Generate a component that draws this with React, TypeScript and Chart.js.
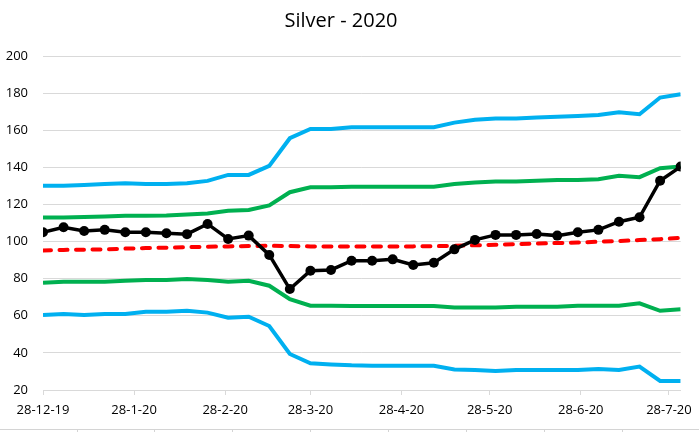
import React, { useEffect, useRef } from "react";
import { Chart, registerables } from "chart.js";

Chart.register(...registerables);

const weekDates = [
  "2019-12-28", "2020-01-04", "2020-01-11", "2020-01-18", "2020-01-25",
  "2020-02-01", "2020-02-08", "2020-02-15", "2020-02-22", "2020-02-29",
  "2020-03-07", "2020-03-14", "2020-03-21", "2020-03-28", "2020-04-04",
  "2020-04-11", "2020-04-18", "2020-04-25", "2020-05-02", "2020-05-09",
  "2020-05-16", "2020-05-23", "2020-05-30", "2020-06-06", "2020-06-13",
  "2020-06-20", "2020-06-27", "2020-07-04", "2020-07-11", "2020-07-18",
  "2020-07-25", "2020-08-01",
];

const tickDates = [
  "2019-12-28", "2020-01-28", "2020-02-28", "2020-03-28",
  "2020-04-28", "2020-05-28", "2020-06-28", "2020-07-28",
];
const tickLabels = [
  "28-12-19", "28-1-20", "28-2-20", "28-3-20",
  "28-4-20", "28-5-20", "28-6-20", "28-7-20",
];

const silver = [
  105.0, 107.7, 105.7, 106.3, 105.0, 105.0, 104.5, 104.0, 109.5, 101.4,
  103.2, 92.8, 74.4, 84.3, 84.7, 89.7, 89.7, 90.4, 87.4, 88.6,
  95.8, 100.9, 103.6, 103.6, 104.1, 103.2, 105.0, 106.3, 110.7, 113.1,
  132.8, 140.4,
];
const upper2 = [
  130.1, 130.1, 130.5, 131.0, 131.4, 131.0, 131.0, 131.4, 132.7, 135.9,
  135.9, 140.8, 155.7, 160.7, 160.7, 161.6, 161.6, 161.6, 161.6, 161.6,
  164.1, 165.6, 166.3, 166.3, 166.8, 167.3, 167.7, 168.2, 169.7, 168.6,
  177.6, 179.4,
];
const upper1 = [
  112.9, 113.0, 113.3, 113.5, 113.9, 113.9, 114.0, 114.6, 115.1, 116.6,
  117.0, 119.5, 126.6, 129.3, 129.3, 129.6, 129.6, 129.6, 129.6, 129.6,
  131.0, 131.8, 132.3, 132.3, 132.8, 133.2, 133.2, 133.6, 135.4, 134.7,
  139.5, 140.4,
];
const average = [
  95.2, 95.5, 95.6, 95.8, 96.2, 96.5, 96.7, 97.0, 97.2, 97.4,
  97.6, 97.7, 97.6, 97.4, 97.3, 97.3, 97.3, 97.3, 97.4, 97.5,
  97.7, 98.0, 98.3, 98.6, 98.9, 99.2, 99.5, 99.9, 100.3, 100.8,
  101.3, 102.0,
];
const lower1 = [
  77.8, 78.4, 78.4, 78.4, 78.9, 79.3, 79.3, 79.8, 79.3, 78.4,
  78.9, 76.2, 68.9, 65.4, 65.4, 65.3, 65.3, 65.3, 65.3, 65.3,
  64.4, 64.4, 64.4, 64.9, 64.9, 64.9, 65.4, 65.4, 65.4, 66.7,
  62.7, 63.5,
];
const lower2 = [
  60.4, 61.0, 60.4, 61.0, 61.0, 62.2, 62.2, 62.7, 61.7, 59.0,
  59.5, 54.5, 39.4, 34.4, 33.8, 33.3, 33.1, 33.1, 33.1, 33.1,
  31.1, 30.8, 30.2, 30.8, 30.8, 30.8, 30.8, 31.3, 30.8, 32.6,
  24.9, 24.9,
];

const yMin = 20;
const yMax = 200;
const yStep = 20;

const DAY = 86400000;
const toUTC = (s: string) => {
  const [y, m, d] = s.split("-").map(Number);
  return Date.UTC(y, m - 1, d);
};
const origin = toUTC(weekDates[0]);
const dayOf = (s: string) => Math.round((toUTC(s) - origin) / DAY);

const FONT = "'Open Sans', 'DejaVu Sans', sans-serif";

export default function App() {
  const ref = useRef<HTMLCanvasElement | null>(null);

  useEffect(() => {
    if (!ref.current) return;
    const xs = weekDates.map(dayOf);
    const pts = (arr: number[]) => arr.map((v, i) => ({ x: xs[i], y: v }));
    const tickDays = tickDates.map(dayOf);

    const chart = new Chart(ref.current, {
      type: "line",
      data: {
        datasets: [
          {
            label: "Silver",
            data: pts(silver),
            borderColor: "#000000",
            backgroundColor: "#000000",
            borderWidth: 3.5,
            pointRadius: 5,
            pointBorderWidth: 0,
            pointBackgroundColor: "#000000",
            tension: 0,
          },
          {
            label: "Average",
            data: pts(average),
            borderColor: "#FF0000",
            borderWidth: 4,
            borderDash: [8, 8.5],
            borderCapStyle: "round",
            pointRadius: 0,
            tension: 0,
          },
          {
            label: "+1σ",
            data: pts(upper1),
            borderColor: "#00B050",
            borderWidth: 4,
            pointRadius: 0,
            tension: 0,
          },
          {
            label: "-1σ",
            data: pts(lower1),
            borderColor: "#00B050",
            borderWidth: 4,
            pointRadius: 0,
            tension: 0,
          },
          {
            label: "+2σ",
            data: pts(upper2),
            borderColor: "#00B0F0",
            borderWidth: 4,
            pointRadius: 0,
            tension: 0,
          },
          {
            label: "-2σ",
            data: pts(lower2),
            borderColor: "#00B0F0",
            borderWidth: 4,
            pointRadius: 0,
            tension: 0,
          },
        ],
      },
      options: {
        animation: false,
        responsive: false,
        devicePixelRatio: 1,
        layout: { padding: { left: 0, right: 17, top: 0, bottom: 0 } },
        plugins: {
          legend: { display: false },
          tooltip: { enabled: false },
          title: {
            display: true,
            text: "Silver - 2020",
            color: "#000000",
            font: { family: FONT, size: 20, weight: "normal" },
            padding: { top: 9, bottom: 23 },
          },
        },
        scales: {
          x: {
            type: "linear",
            min: 0,
            max: dayOf(weekDates[weekDates.length - 1]),
            afterBuildTicks: (scale: any) => {
              scale.ticks = tickDays.map((v) => ({ value: v }));
            },
            afterFit: (scale: any) => {
              scale.height = 42;
            },
            ticks: {
              autoSkip: false,
              maxRotation: 0,
              minRotation: 0,
              padding: 7,
              color: "#000000",
              font: { family: FONT, size: 13 },
              callback: (_v: any, i: number) => tickLabels[i],
            },
            grid: {
              drawOnChartArea: false,
              drawTicks: true,
              tickLength: 5,
              color: "#D9D9D9",
              lineWidth: 1,
            },
            border: { display: true, color: "#D9D9D9", width: 1 },
          },
          y: {
            min: yMin,
            max: yMax,
            afterFit: (scale: any) => {
              scale.width = 43;
            },
            ticks: {
              stepSize: yStep,
              padding: 15,
              color: "#000000",
              font: { family: FONT, size: 13 },
            },
            grid: {
              color: "#D9D9D9",
              lineWidth: 1,
              drawTicks: false,
            },
            border: { display: false },
          },
        },
      },
    });
    return () => chart.destroy();
  }, []);

  const sheetCols = [77, 154, 232, 310, 388, 466, 544, 622];

  return (
    <div
      style={{
        position: "absolute",
        left: 0,
        top: 0,
        width: 699,
        height: 432,
        background: "#ffffff",
        overflow: "hidden",
      }}
    >
      <div
        style={{
          position: "absolute",
          left: 0,
          top: 429,
          width: 699,
          height: 1,
          background: "#D4D4D4",
        }}
      />
      {sheetCols.map((x) => (
        <div
          key={x}
          style={{
            position: "absolute",
            left: x,
            top: 429,
            width: 1,
            height: 3,
            background: "#D4D4D4",
          }}
        />
      ))}
      <canvas
        ref={ref}
        width={699}
        height={432}
        style={{ position: "absolute", left: 0, top: 0, width: 699, height: 432 }}
      />
    </div>
  );
}
